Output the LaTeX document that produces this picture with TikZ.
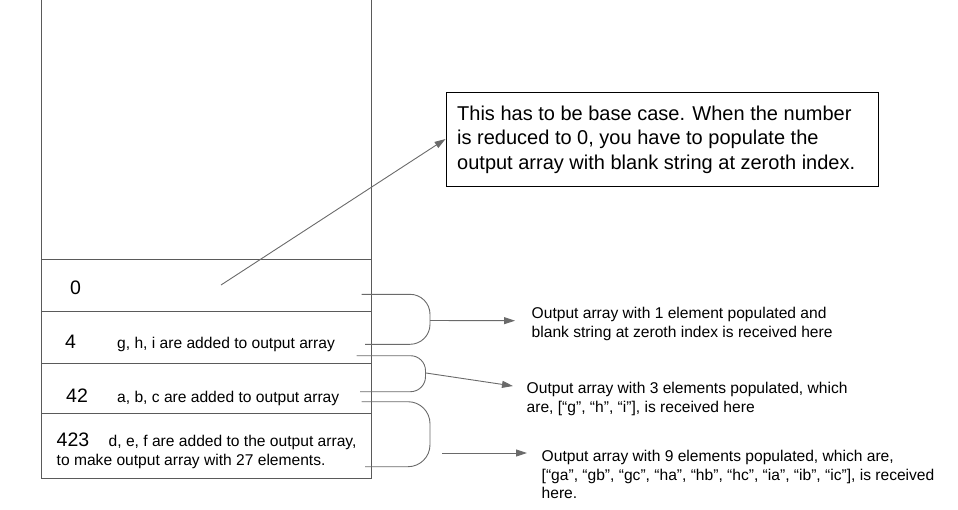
\documentclass[tikz,border=0pt]{standalone}
\usepackage{fontspec}
\setmainfont{Liberation Sans}
\usetikzlibrary{arrows.meta}
\definecolor{linegray}{HTML}{6A6A6A}
\definecolor{stackgray}{HTML}{5A5A5A}

\begin{document}
\begin{tikzpicture}[x=1pt,y=-1pt,
	cell/.style={draw=stackgray,line width=1pt,minimum width=330pt,inner sep=0,outer sep=0},
	num/.style={anchor=base west,inner sep=0,font=\fontsize{19.5}{23}\selectfont},
	note/.style={anchor=base west,inner sep=0,align=left,font=\fontsize{15.6}{18.6}\selectfont},
	bracket/.style={draw=linegray,line width=0.9pt},
	pointer/.style={draw=linegray,line width=0.9pt,-{Triangle[length=11pt,width=7pt]}}]
	\useasboundingbox (0,0) rectangle (958,509);
	% stack of calls
	\draw[stackgray,line width=1pt] (41,0) -- (41,259);
	\draw[stackgray,line width=1pt] (371,0) -- (371,259);
	\node[cell,minimum height=52pt] (c0) at (206,285) {};
	\node[cell,minimum height=52pt] (c4) at (206,337) {};
	\node[cell,minimum height=50pt] (c42) at (206,388) {};
	\node[cell,minimum height=65pt] (c423) at (206,445.5) {};
	\node[num] (n0) at (70,294.7) {0};
	\node[num] (n4) at (65,348.7) {4};
	\node[num] (n42) at (66,402.7) {42};
	\node[num] (n423) at (56.5,446) {423};
	\node[note] (t4) at (117,348.7) {g, h, i are added to output array};
	\node[note] (t42) at (117,402.7) {a, b, c are added to output array};
	\node[note] (t423a) at (108.5,446) {d, e, f are added to the output array,};
	\node[note] (t423b) at (56.5,465.5) {to make output array with 27 elements.};
	% base case note
	\node[draw=black,line width=0.9pt,minimum width=432pt,minimum height=94pt,inner sep=0] (box) at (662,139) {};
	\node[anchor=base west,inner sep=0,align=left,font=\fontsize{20}{24.5}\selectfont] (boxtext) at (457,169) {This has to be base case. When the number\\is reduced to 0, you have to populate the\\output array with blank string at zeroth index.};
	\coordinate (zero) at (221,285);
	\draw[pointer] (zero) -- (box.west);
	% returned arrays
	\draw[bracket,rounded corners=20pt] (361.7,294.3) -- (430,294.3) -- (430,344.3) -- (365,344.3);
	\draw[bracket,rounded corners=15pt] (356.7,355.7) -- (425.5,355.7) -- (425.5,391.7) -- (360,391.7);
	\draw[bracket,rounded corners=22pt] (361.7,401.7) -- (430,401.7) -- (430,466.7) -- (365,466.7);
	\coordinate (r1) at (430,320.5);
	\coordinate (r2) at (426,373);
	\coordinate (r3) at (442,453);
	\node[note] (out1) at (531.5,337) {Output array with 1 element populated and\\blank string at zeroth index is received here};
	\node[note] (out3) at (526.5,412) {Output array with 3 elements populated, which\\are, [“g”, “h”, “i”], is received here};
	\node[note] (out9) at (541.5,498.7) {Output array with 9 elements populated, which are,\\{}[“ga”, “gb”, “gc”, “ha”, “hb”, “hc”, “ia”, “ib”, “ic”], is received\\here.};
	\draw[pointer] (r1) -- (515,320.7);
	\draw[pointer] (r2) -- (513,386);
	\draw[pointer] (r3) -- (527,453);
\end{tikzpicture}
\end{document}
